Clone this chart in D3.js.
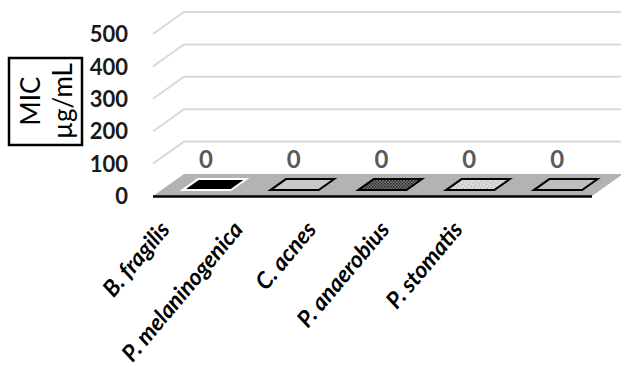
<!DOCTYPE html>
<html>
<head>
<meta charset="utf-8">
<script src="https://cdn.jsdelivr.net/npm/d3@7/dist/d3.min.js"></script>
<style>
  html, body { margin: 0; padding: 0; background: #fff; }
  svg { display: block; }
  text { font-family: Lato, "Open Sans", sans-serif; }
</style>
</head>
<body>
<svg id="chart" width="621" height="375"></svg>
<script>
// Organisms tested and the minimum inhibitory concentration measured for each
const categories = ["B. fragilis", "P. melaninogenica", "C. acnes", "P. anaerobius", "P. stomatis"];
const micValues = [0, 0, 0, 0, 0];
const yTicks = [0, 100, 200, 300, 400, 500];
const axisTitle = ["MIC", "µg/mL"];

const svg = d3.select("#chart");

// 3-D projection: depth offset of the floor / back wall
const DX = 31, DY = -22;

const x = d3.scaleBand().domain(categories).range([153, 592])
  .paddingInner(0.45).paddingOuter(0.225);
const y = d3.scaleLinear().domain([0, 500]).range([196, 34]);

// patterns for the shaded bars
const defs = svg.append("defs");
const dark = defs.append("pattern").attr("id", "dotsDark")
  .attr("width", 3).attr("height", 3).attr("patternUnits", "userSpaceOnUse");
dark.append("rect").attr("width", 3).attr("height", 3).attr("fill", "#7a7a7a");
dark.append("rect").attr("width", 1.5).attr("height", 1.5).attr("fill", "#222");
dark.append("rect").attr("x", 1.5).attr("y", 1.5).attr("width", 1.5).attr("height", 1.5).attr("fill", "#333");
const light = defs.append("pattern").attr("id", "dotsLight")
  .attr("width", 3).attr("height", 3).attr("patternUnits", "userSpaceOnUse")
  .attr("patternTransform", "rotate(30)");
light.append("rect").attr("width", 3).attr("height", 3).attr("fill", "#dcdcdc");
light.append("rect").attr("width", 1).attr("height", 1).attr("fill", "#9a9a9a");

const barFills = ["#000000", "#c9c9c9", "url(#dotsDark)", "url(#dotsLight)", "#bdbdbd"];
const barStrokes = ["#ffffff", "#000000", "#000000", "#000000", "#000000"];

// back-wall gridlines
svg.append("g").selectAll("path")
  .data(yTicks.filter(t => t > 0))
  .join("path")
  .attr("d", t => `M${x.range()[0]},${y(t)} L${x.range()[0] + DX},${y(t) + DY} L621,${y(t) + DY}`)
  .attr("fill", "none")
  .attr("stroke", "#d9d9d9")
  .attr("stroke-width", 2);

// floor
const [fx0, fx1] = x.range();
svg.append("path")
  .attr("d", `M${fx0},${y(0)} L${fx1},${y(0)} L${fx1 + DX},${y(0) + DY} L${fx0 + DX},${y(0) + DY} Z`)
  .attr("fill", "#b3b3b3");
svg.append("line")
  .attr("x1", fx0).attr("x2", fx1)
  .attr("y1", y(0) + 0.5).attr("y2", y(0) + 0.5)
  .attr("stroke", "#000").attr("stroke-width", 2.5);

// value axis labels
svg.append("g").selectAll("text")
  .data(yTicks)
  .join("text")
  .attr("x", 128)
  .attr("y", t => y(t))
  .attr("dy", "0.37em")
  .attr("text-anchor", "end")
  .attr("font-size", 22)
  .attr("font-weight", 700)
  .attr("fill", "#1a1a1a")
  .text(t => t);

// bars as 3-D boxes (front face + top face); zero height leaves only the top face
const d0 = 0.27, d1 = 0.77;
const bars = svg.append("g").selectAll("g")
  .data(categories.map((c, i) => ({ c, v: micValues[i], i })))
  .join("g");
bars.append("path")
  .attr("d", d => {
    const l = x(d.c) + 1.5, w = x.bandwidth(), top = y(d.v), base = y(0);
    return `M${l + d0 * DX},${base + d0 * DY} L${l + w + d0 * DX},${base + d0 * DY} ` +
      `L${l + w + d0 * DX},${top + d0 * DY} L${l + d0 * DX},${top + d0 * DY} Z`;
  })
  .attr("fill", d => barFills[d.i])
  .attr("stroke", d => barStrokes[d.i])
  .attr("stroke-width", 2);
bars.append("path")
  .attr("d", d => {
    const l = x(d.c) + 1.5, w = x.bandwidth(), top = y(d.v);
    return `M${l + d0 * DX},${top + d0 * DY} L${l + w + d0 * DX},${top + d0 * DY} ` +
      `L${l + w + d1 * DX},${top + d1 * DY} L${l + d1 * DX},${top + d1 * DY} Z`;
  })
  .attr("fill", d => barFills[d.i])
  .attr("stroke", d => barStrokes[d.i])
  .attr("stroke-width", 2)
  .attr("stroke-linejoin", "miter");

// data labels
svg.append("g").selectAll("text")
  .data(categories.map((c, i) => ({ c, v: micValues[i] })))
  .join("text")
  .attr("x", d => x(d.c) + x.bandwidth() / 2 + 9)
  .attr("y", d => y(d.v) - 28)
  .attr("text-anchor", "middle")
  .attr("font-size", 24)
  .attr("font-weight", 700)
  .attr("fill", "#595959")
  .text(d => d.v);

// category labels, rotated
const xl = d3.scalePoint().domain(categories).range([171, 464]);
svg.append("g").selectAll("text")
  .data(categories)
  .join("text")
  .attr("transform", c => `translate(${xl(c)},230) rotate(-50)`)
  .attr("text-anchor", "end")
  .attr("font-size", 23)
  .attr("font-weight", 700)
  .attr("font-style", "italic")
  .attr("fill", "#000")
  .text(c => c);

// boxed value-axis title
svg.append("rect")
  .attr("x", 9).attr("y", 58).attr("width", 73).attr("height", 87)
  .attr("fill", "#fff").attr("stroke", "#000").attr("stroke-width", 2.5);
svg.append("text")
  .attr("transform", "translate(40,101) rotate(-90)")
  .attr("text-anchor", "middle")
  .attr("font-size", 26)
  .attr("fill", "#000")
  .selectAll("tspan")
  .data(axisTitle)
  .join("tspan")
  .attr("x", 0)
  .attr("dy", (d, i) => i === 0 ? 0 : 32)
  .text(d => d);
</script>
</body>
</html>
